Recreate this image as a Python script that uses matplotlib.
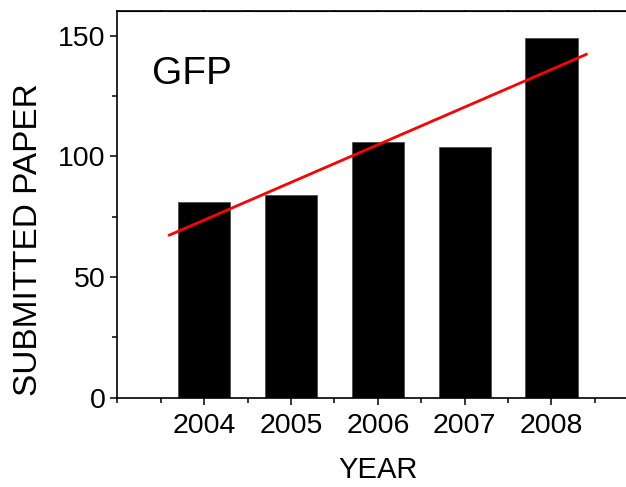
import matplotlib
matplotlib.use("Agg")
import matplotlib.pyplot as plt
import numpy as np
from matplotlib.ticker import MultipleLocator

plt.rcParams["font.family"] = ["Liberation Sans", "DejaVu Sans"]

years = [2004, 2005, 2006, 2007, 2008]
papers = [81, 84, 106, 104, 149]
fit_range = (2003.6, 2008.4)

fig = plt.figure(figsize=(6.26, 4.87), dpi=100)
ax = fig.add_axes([0.1874, 0.1834, 0.8323, 0.793])

ax.bar(years, papers, width=0.6, color="black", edgecolor="#444444", linewidth=0.5, zorder=2)

# linear fit of the yearly counts
slope, intercept = np.polyfit(years, papers, 1)
xf = np.array(fit_range)
ax.plot(xf, slope * xf + intercept, color="red", linewidth=2, zorder=3)

ax.text(2003.4, 130, "GFP", fontsize=28, va="baseline", ha="left")

ax.set_xlim(2003, 2009)
ax.set_ylim(0, 160)
ax.set_xticks(years)
ax.xaxis.set_minor_locator(MultipleLocator(0.5))
ax.yaxis.set_major_locator(MultipleLocator(50))
ax.yaxis.set_minor_locator(MultipleLocator(25))
ax.tick_params(axis="both", which="major", length=5, width=1.1, labelsize=20.5, direction="out")
ax.tick_params(axis="both", which="minor", length=3.5, width=1.1, direction="out")
ax.tick_params(axis="x", which="major", pad=6)
for s in ax.spines.values():
    s.set_linewidth(1.2)

# tiny marks on the top spine
top = ax.secondary_xaxis("top")
top.set_xticks(np.arange(2003.5, 2009, 0.5))
top.tick_params(length=1.5, width=1.1, direction="inout", labeltop=False)

ax.set_xlabel("YEAR", fontsize=21, labelpad=12)
ax.set_ylabel("SUBMITTED PAPER", fontsize=24)
ax.yaxis.set_label_coords(-0.141, 0.408)

fig.savefig("out.png", dpi=100)
